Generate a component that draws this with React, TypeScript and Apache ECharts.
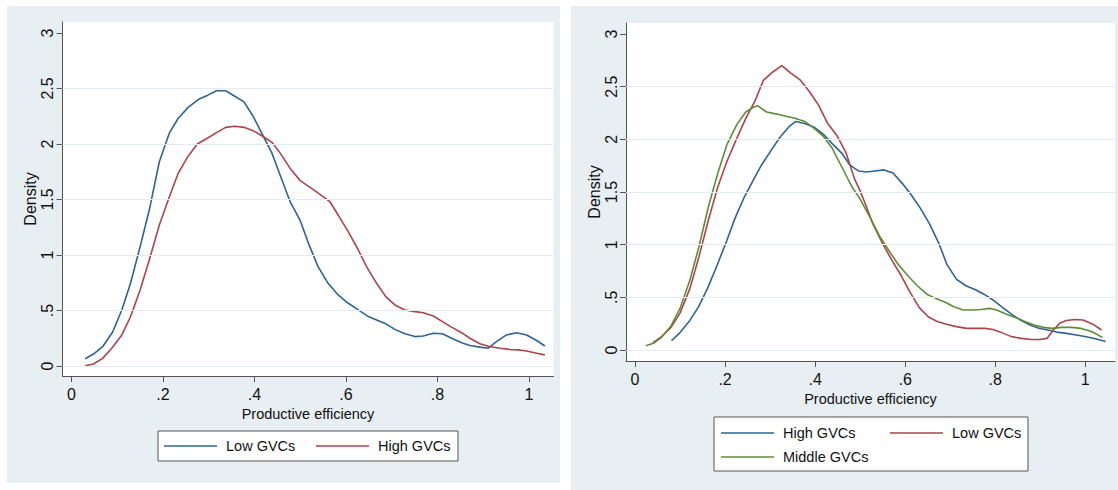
import React, { useEffect, useRef } from "react";
import * as echarts from "echarts";

// ---------- Data ----------
// Left panel
const leftLowGVCs: [number, number][] = [
  [0.03, 0.066], [0.048, 0.108], [0.068, 0.174], [0.09, 0.306], [0.11, 0.505], [0.129, 0.745],
  [0.15, 1.075], [0.17, 1.405], [0.192, 1.84], [0.214, 2.1], [0.233, 2.23], [0.255, 2.33],
  [0.277, 2.4], [0.298, 2.44], [0.317, 2.48], [0.337, 2.48], [0.357, 2.43], [0.377, 2.38],
  [0.397, 2.25], [0.418, 2.08], [0.438, 1.92], [0.456, 1.72], [0.478, 1.48], [0.5, 1.31],
  [0.518, 1.105], [0.539, 0.895], [0.561, 0.745], [0.583, 0.64], [0.605, 0.565], [0.627, 0.505],
  [0.649, 0.445], [0.667, 0.415], [0.687, 0.38], [0.707, 0.33], [0.729, 0.29], [0.751, 0.265],
  [0.769, 0.27], [0.791, 0.295], [0.811, 0.29], [0.831, 0.25], [0.853, 0.21], [0.871, 0.185],
  [0.893, 0.17], [0.911, 0.16], [0.929, 0.22], [0.951, 0.28], [0.973, 0.3], [0.995, 0.28],
  [1.017, 0.23], [1.035, 0.18],
];
const leftHighGVCs: [number, number][] = [
  [0.03, 0.003], [0.048, 0.018], [0.068, 0.069], [0.088, 0.16], [0.11, 0.28], [0.129, 0.444],
  [0.15, 0.685], [0.17, 0.955], [0.192, 1.27], [0.214, 1.525], [0.233, 1.735], [0.255, 1.89],
  [0.275, 2.0], [0.296, 2.05], [0.316, 2.1], [0.337, 2.15], [0.357, 2.16], [0.377, 2.15],
  [0.397, 2.12], [0.418, 2.07], [0.438, 2.015], [0.456, 1.92], [0.478, 1.78], [0.5, 1.67],
  [0.532, 1.58], [0.565, 1.48], [0.583, 1.36], [0.605, 1.21], [0.627, 1.045], [0.645, 0.895],
  [0.667, 0.745], [0.687, 0.625], [0.707, 0.55], [0.729, 0.505], [0.751, 0.49], [0.769, 0.48],
  [0.791, 0.45], [0.811, 0.4], [0.831, 0.35], [0.853, 0.3], [0.871, 0.25], [0.893, 0.2],
  [0.913, 0.175], [0.937, 0.16], [0.957, 0.15], [0.977, 0.145], [0.995, 0.135], [1.017, 0.115],
  [1.035, 0.1],
];
// Right panel
const rightHighGVCs: [number, number][] = [
  [0.081, 0.088], [0.1, 0.165], [0.12, 0.27], [0.141, 0.41], [0.161, 0.585], [0.181, 0.79],
  [0.204, 1.04], [0.222, 1.25], [0.243, 1.455], [0.263, 1.615], [0.281, 1.757], [0.303, 1.9],
  [0.322, 2.02], [0.342, 2.12], [0.357, 2.17], [0.377, 2.15], [0.398, 2.115], [0.418, 2.05],
  [0.438, 1.96], [0.459, 1.87], [0.477, 1.757], [0.496, 1.7], [0.514, 1.69], [0.533, 1.7],
  [0.553, 1.71], [0.573, 1.68], [0.594, 1.58], [0.614, 1.47], [0.634, 1.345], [0.655, 1.19],
  [0.675, 1.01], [0.693, 0.81], [0.714, 0.67], [0.735, 0.61], [0.755, 0.575], [0.775, 0.53],
  [0.795, 0.475], [0.816, 0.405], [0.836, 0.34], [0.856, 0.285], [0.877, 0.237], [0.897, 0.206],
  [0.917, 0.19], [0.936, 0.17], [0.958, 0.158], [0.98, 0.142], [1.002, 0.126], [1.025, 0.105],
  [1.045, 0.08],
];
const rightLowGVCs: [number, number][] = [
  [0.04, 0.07], [0.059, 0.127], [0.08, 0.215], [0.1, 0.35], [0.122, 0.585], [0.142, 0.885],
  [0.163, 1.235], [0.184, 1.55], [0.204, 1.79], [0.226, 2.01], [0.246, 2.2], [0.266, 2.36],
  [0.285, 2.56], [0.306, 2.64], [0.326, 2.7], [0.346, 2.63], [0.368, 2.56], [0.388, 2.45],
  [0.407, 2.33], [0.428, 2.15], [0.448, 2.04], [0.468, 1.88], [0.488, 1.62], [0.499, 1.52],
  [0.514, 1.36], [0.529, 1.19], [0.55, 1.01], [0.57, 0.855], [0.592, 0.7], [0.61, 0.555],
  [0.631, 0.405], [0.651, 0.315], [0.671, 0.27], [0.692, 0.245], [0.714, 0.222], [0.736, 0.205],
  [0.758, 0.205], [0.777, 0.205], [0.795, 0.195], [0.814, 0.165], [0.836, 0.127], [0.858, 0.11],
  [0.88, 0.1], [0.899, 0.1], [0.915, 0.11], [0.929, 0.19], [0.943, 0.253], [0.958, 0.28],
  [0.977, 0.29], [0.995, 0.285], [1.017, 0.245], [1.036, 0.19],
];
const rightMiddleGVCs: [number, number][] = [
  [0.024, 0.04], [0.041, 0.063], [0.059, 0.12], [0.08, 0.228], [0.1, 0.395], [0.122, 0.665],
  [0.142, 0.98], [0.163, 1.36], [0.184, 1.68], [0.204, 1.95], [0.226, 2.14], [0.246, 2.26],
  [0.263, 2.305], [0.272, 2.32], [0.292, 2.26], [0.315, 2.24], [0.335, 2.22], [0.355, 2.2],
  [0.377, 2.17], [0.398, 2.105], [0.418, 2.03], [0.438, 1.915], [0.459, 1.74], [0.481, 1.555],
  [0.499, 1.44], [0.522, 1.26], [0.544, 1.075], [0.565, 0.935], [0.585, 0.81], [0.607, 0.7],
  [0.627, 0.61], [0.648, 0.53], [0.668, 0.49], [0.688, 0.455], [0.708, 0.41], [0.729, 0.38],
  [0.749, 0.38], [0.769, 0.385], [0.788, 0.395], [0.803, 0.38], [0.825, 0.34], [0.846, 0.307],
  [0.866, 0.27], [0.886, 0.237], [0.907, 0.215], [0.927, 0.205], [0.947, 0.215], [0.969, 0.215],
  [0.991, 0.205], [1.014, 0.175], [1.038, 0.12],
];

const xTicks = [0, 0.2, 0.4, 0.6, 0.8, 1];
const yTicks = [0, 0.5, 1, 1.5, 2, 2.5, 3];
const gridValues = [0, 0.5, 1, 1.5, 2, 2.5];

const xTitle = "Productive efficiency";
const yTitle = "Density";

// ---------- Styles ----------
const FONT = "'Liberation Sans', Arial, Helvetica, sans-serif";
const BLUE = "#2f6394";
const RED = "#ad434b";
const GREEN = "#5f8c38";
const AXIS = "#555555";
const GRIDLINE = "#e3ecf0";
const PANEL_BG = "#e8eff2";

const fmt = (v: number) => (v === 0 ? "0" : String(v).replace(/^0\./, "."));

function makeXAxis(gridIndex: number, min: number, max: number, nameGap: number) {
  return {
    type: "value",
    gridIndex,
    min,
    max,
    name: xTitle,
    nameLocation: "middle",
    nameGap,
    nameTextStyle: { fontFamily: FONT, fontSize: 14.5, color: "#111" },
    axisLine: { show: true, onZero: false, lineStyle: { color: AXIS, width: 1 } },
    axisTick: { show: true, length: 6, customValues: xTicks, lineStyle: { color: AXIS } },
    axisLabel: {
      customValues: xTicks,
      formatter: fmt,
      margin: 10,
      fontFamily: FONT,
      fontSize: 16,
      color: "#111",
    },
    splitLine: { show: false },
  };
}

function makeYAxis(gridIndex: number, min: number, max: number, nameGap: number) {
  return {
    type: "value",
    gridIndex,
    min,
    max,
    name: yTitle,
    nameLocation: "middle",
    nameRotate: 90,
    nameGap,
    nameTextStyle: { fontFamily: FONT, fontSize: 16, color: "#111" },
    axisLine: { show: true, onZero: false, lineStyle: { color: AXIS, width: 1 } },
    axisTick: { show: true, length: 6, customValues: yTicks, lineStyle: { color: AXIS } },
    axisLabel: {
      customValues: yTicks,
      formatter: fmt,
      rotate: 90,
      margin: 7,
      fontFamily: FONT,
      fontSize: 16,
      color: "#111",
    },
    splitLine: { show: false },
  };
}

function gridSeries(idx: number) {
  return {
    type: "line",
    xAxisIndex: idx,
    yAxisIndex: idx,
    data: [],
    z: 1,
    silent: true,
    markLine: {
      silent: true,
      symbol: ["none", "none"],
      label: { show: false },
      lineStyle: { color: GRIDLINE, type: "solid", width: 1 },
      data: gridValues.map((v) => ({ yAxis: v })),
    },
  };
}

function curve(name: string, data: [number, number][], color: string, idx: number) {
  return {
    type: "line",
    name,
    xAxisIndex: idx,
    yAxisIndex: idx,
    data,
    showSymbol: false,
    symbol: "none",
    smooth: false,
    z: 3,
    lineStyle: { color, width: 1.6 },
    itemStyle: { color },
  };
}

function legendItem(x: number, y: number, color: string, label: string) {
  return [
    { type: "line", shape: { x1: x, y1: y, x2: x + 53, y2: y }, style: { stroke: color, lineWidth: 1.6 } },
    {
      type: "text",
      x: x + 62,
      y,
      style: { text: label, fill: "#111", font: `14.5px ${FONT}`, align: "left", verticalAlign: "middle" },
    },
  ];
}

export default function App() {
  const ref = useRef<HTMLDivElement>(null);

  useEffect(() => {
    if (!ref.current) return;
    const chart = echarts.init(ref.current, undefined, { renderer: "svg" });
    chart.setOption({
      animation: false,
      backgroundColor: "transparent",
      grid: [
        { left: 62.5, top: 22, width: 491, height: 354, show: true, backgroundColor: "#ffffff", borderWidth: 0 },
        { left: 626, top: 23, width: 489, height: 338, show: true, backgroundColor: "#ffffff", borderWidth: 0 },
      ],
      xAxis: [makeXAxis(0, -0.0197, 1.0538, 29), makeXAxis(1, -0.02, 1.066, 28)],
      yAxis: [makeYAxis(0, -0.09, 3.099, 22), makeYAxis(1, -0.1045, 3.105, 23)],
      series: [
        gridSeries(0),
        gridSeries(1),
        curve("Low GVCs", leftLowGVCs, BLUE, 0),
        curve("High GVCs", leftHighGVCs, RED, 0),
        curve("High GVCs", rightHighGVCs, BLUE, 1),
        curve("Low GVCs", rightLowGVCs, RED, 1),
        curve("Middle GVCs", rightMiddleGVCs, GREEN, 1),
      ],
      graphic: [
        {
          type: "rect",
          shape: { x: 158, y: 431, width: 300, height: 30 },
          style: { fill: "#ffffff", stroke: AXIS, lineWidth: 1 },
        },
        ...legendItem(164, 446, BLUE, "Low GVCs"),
        ...legendItem(316, 446, RED, "High GVCs"),
        {
          type: "rect",
          shape: { x: 714, y: 417, width: 314, height: 54 },
          style: { fill: "#ffffff", stroke: AXIS, lineWidth: 1 },
        },
        ...legendItem(721, 433, BLUE, "High GVCs"),
        ...legendItem(890, 433, RED, "Low GVCs"),
        ...legendItem(721, 457, GREEN, "Middle GVCs"),
      ],
    });
    return () => chart.dispose();
  }, []);

  return (
    <div style={{ position: "absolute", left: 0, top: 0, width: 1118, height: 490, background: "#ffffff" }}>
      <div style={{ position: "absolute", left: 7, top: 6, width: 553, height: 477, background: PANEL_BG }} />
      <div style={{ position: "absolute", left: 571, top: 6, width: 547, height: 484, background: PANEL_BG }} />
      <div ref={ref} style={{ position: "absolute", left: 0, top: 0, width: 1118, height: 490 }} />
    </div>
  );
}
